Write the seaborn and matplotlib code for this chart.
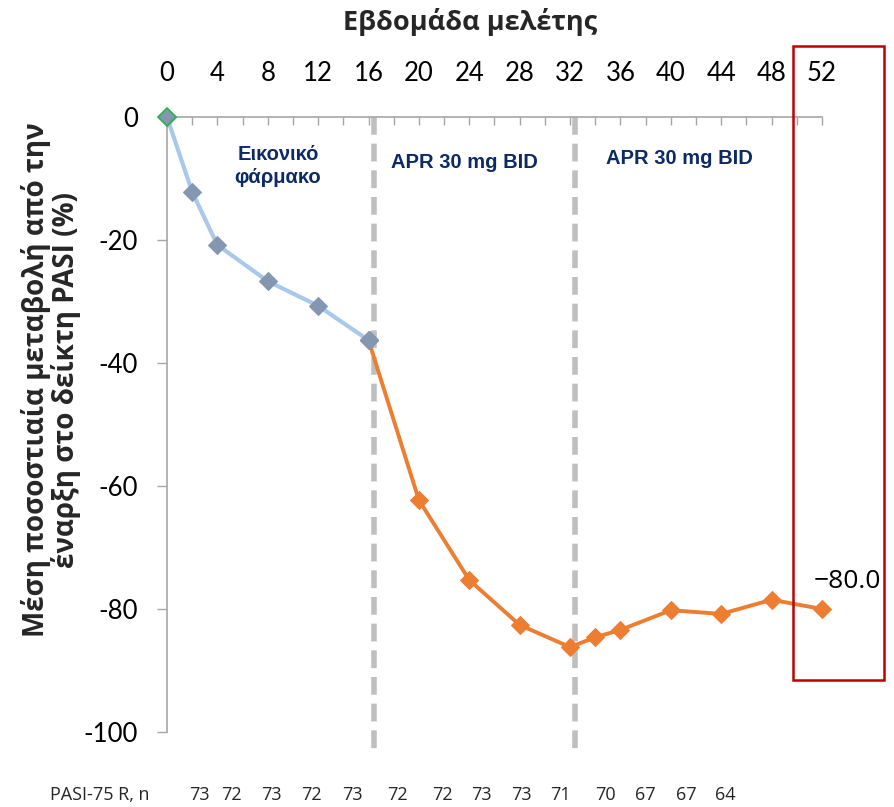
import matplotlib
matplotlib.use("Agg")
import matplotlib.pyplot as plt
import matplotlib.transforms as mtransforms
import seaborn as sns
from matplotlib.patches import Rectangle

# ---- data ----
placebo_weeks = [0, 2, 4, 8, 12, 16]
placebo_values = [0, -12.2, -20.8, -26.7, -30.7, -36.3]
apr_weeks = [16, 20, 24, 28, 32, 34, 36, 40, 44, 48, 52]
apr_values = [-36.3, -62.3, -75.3, -82.6, -86.2, -84.6, -83.4, -80.2, -80.8, -78.5, -80.0]
pasi_n = ["73", "72", "73", "72", "73", "72", "72", "73", "73", "71", "70", "67", "67", "64"]
pasi_n_weeks = [2.6, 5.1, 8.3, 11.5, 14.7, 18.3, 21.9, 25.0, 28.1, 31.2, 34.8, 38.0, 41.2, 44.3]
x_ticks = list(range(0, 53, 4))
y_ticks = [0, -20, -40, -60, -80, -100]
switch_weeks = [16.45, 32.4]
last_label = "\u221280.0"

sns.set_theme(style="white")
plt.rcParams["font.family"] = ["Open Sans", "DejaVu Sans"]

fig = plt.figure(figsize=(8.95, 8.07), dpi=100)
ax = fig.add_axes([167 / 895, 1 - 732 / 807, (822 - 167) / 895, (732 - 117) / 807])

blue_line = "#A9C8EA"
blue_marker = "#8497B0"
orange = "#ED7D31"
grey = "#A6A6A6"
navy = "#0B2A66"

# dashed treatment switch lines
for w in switch_weeks:
    ax.plot([w, w], [0, -103], color="#BFBFBF", lw=4, ls=(0, (3.2, 1.6)),
            clip_on=False, zorder=1)

sns.lineplot(x=placebo_weeks, y=placebo_values, ax=ax, color=blue_line, lw=3,
             marker="D", markersize=9, markerfacecolor=blue_marker,
             markeredgecolor=blue_marker, zorder=3, clip_on=False)
sns.lineplot(x=apr_weeks, y=apr_values, ax=ax, color=orange, lw=2.8,
             marker="D", markersize=9, markerfacecolor=orange,
             markeredgecolor=orange, zorder=3, clip_on=False)
# first point marker with green edge
ax.plot(placebo_weeks[:1], placebo_values[:1], marker="D", markersize=9,
        markerfacecolor=blue_marker, markeredgecolor="#2EB24A",
        markeredgewidth=1.2, ls="none", zorder=5, clip_on=False)
# blue last marker above orange line start
ax.plot(placebo_weeks[-1:], placebo_values[-1:], marker="D", markersize=9,
        markerfacecolor=blue_marker, markeredgecolor=blue_marker,
        ls="none", zorder=4, clip_on=False)

ax.set_xlim(0, 52)
ax.set_ylim(-100, 0)
ax.xaxis.tick_top()
ax.set_xticks(x_ticks)
ax.set_xticks(list(range(0, 53, 2)), minor=True)
ax.set_xticklabels([str(t) for t in x_ticks])
ax.set_yticks(y_ticks)
ax.set_yticklabels([str(t) for t in y_ticks])
ax.tick_params(axis="x", which="both", direction="in", length=6, width=1,
               color=grey, top=True, bottom=False, pad=22, labelsize=18.5,
               labelcolor="black")
ax.tick_params(axis="y", which="major", direction="out", length=7, width=1,
               color=grey, left=True, pad=14, labelsize=18.5, labelcolor="black")
for lab in ax.get_xticklabels() + ax.get_yticklabels():
    lab.set_family(["Lato", "DejaVu Sans"])
for s in ["right", "bottom"]:
    ax.spines[s].set_visible(False)
for s in ["left", "top"]:
    ax.spines[s].set_color(grey)
    ax.spines[s].set_linewidth(1.2)
ax.grid(False)
ax.set_xlabel("")
ax.set_ylabel("")

# annotations
ax.text(8.8, -8.0, "Εικονικό\nφάρμακο", ha="center", va="center",
        fontsize=14.5, fontweight="bold", color=navy, family="Liberation Sans",
        linespacing=1.25)
ax.text(23.6, -7.4, "APR 30 mg BID", ha="center", va="center",
        fontsize=14.5, fontweight="bold", color=navy, family="Liberation Sans")
ax.text(40.7, -6.8, "APR 30 mg BID", ha="center", va="center",
        fontsize=14.5, fontweight="bold", color=navy, family="Liberation Sans")

# end value label
ax.text(54.0, -75.5, last_label, ha="center", va="center", fontsize=19,
        color="black", family=["Open Sans", "DejaVu Sans"], clip_on=False)

# red highlight box
fig.patches.append(Rectangle((793 / 895, 1 - 680 / 807), (884 - 793) / 895,
                             (680 - 46) / 807, transform=fig.transFigure,
                             fill=False, edgecolor="#C00000", lw=1.8))

# title and y label
fig.text(470 / 895, 1 - 22 / 807, "Εβδομάδα μελέτης", ha="center", va="center",
         fontsize=19.5, fontweight="bold")
fig.text(51 / 895, 1 - 380 / 807,
         "Μέση ποσοστιαία μεταβολή από την\nέναρξη στο δείκτη PASI (%)",
         ha="center", va="center", rotation=90, fontsize=20,
         fontweight="bold", linespacing=1.0)

# PASI-75 responders row
row_y = 1 - 795 / 807
row_tr = mtransforms.blended_transform_factory(ax.transData, fig.transFigure)
fig.text(50 / 895, row_y, "PASI-75 R, n", ha="left", va="center", fontsize=13)
for w, n in zip(pasi_n_weeks, pasi_n):
    ax.text(w, row_y, n, transform=row_tr, ha="center", va="center",
            fontsize=13, clip_on=False)

fig.savefig("out.png", dpi=100)
